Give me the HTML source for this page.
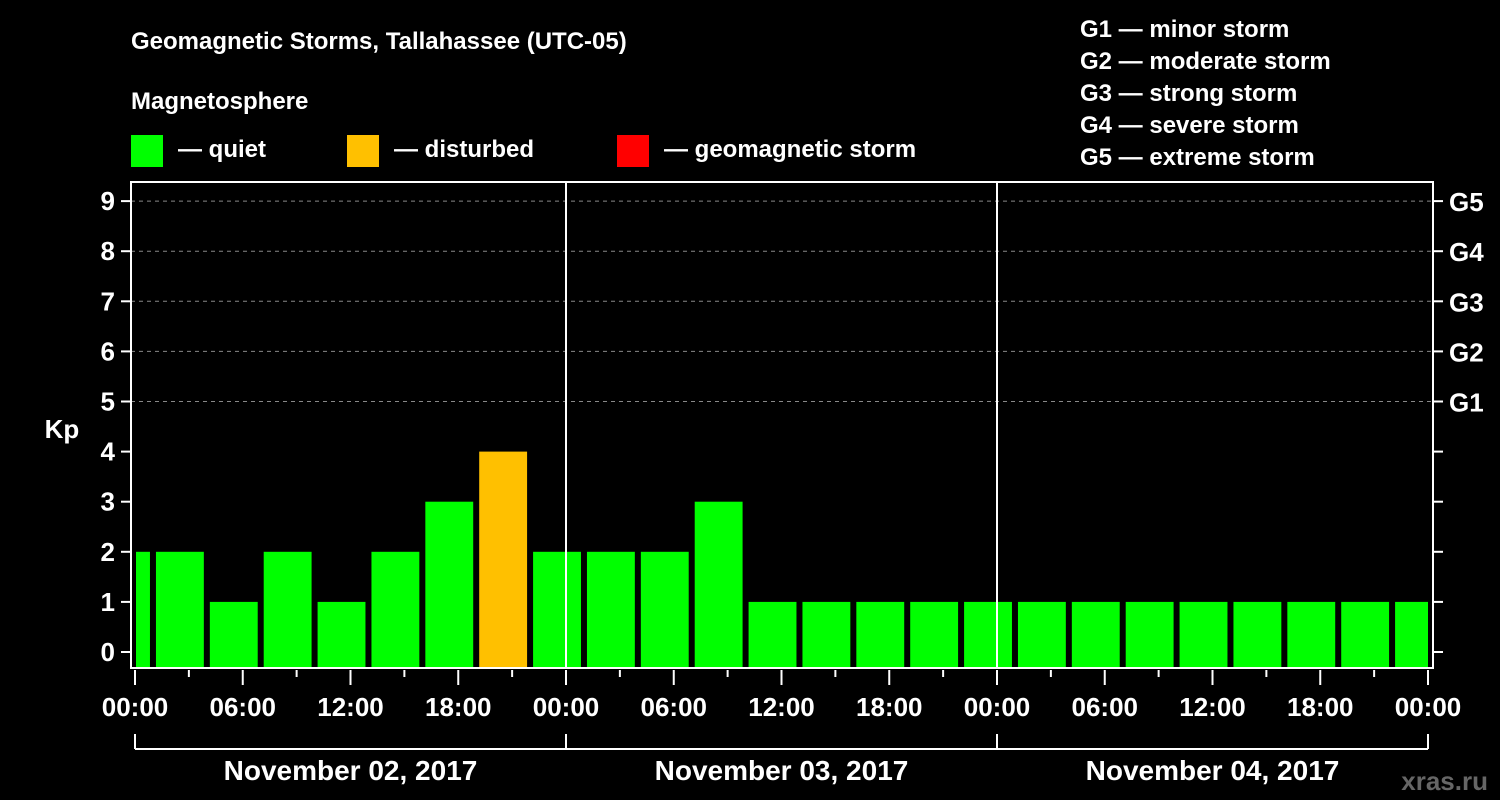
<!DOCTYPE html>
<html><head><meta charset="utf-8"><style>
body{margin:0;background:#000;}
svg{display:block;font-family:"Liberation Sans",Arial,sans-serif;font-weight:bold;}
</style></head><body>
<svg id="c" width="1500" height="800" viewBox="0 0 1500 800">
<rect width="1500" height="800" fill="#000"/>
<text x="131" y="49" fill="#fff" font-size="24">Geomagnetic Storms, Tallahassee (UTC-05)</text>
<text x="131" y="109" fill="#fff" font-size="24">Magnetosphere</text>
<g><rect x="131" y="135" width="32" height="32" fill="#00ff00"/><text x="178" y="157" fill="#fff" font-size="24">— quiet</text></g>
<g><rect x="347" y="135" width="32" height="32" fill="#ffc000"/><text x="394" y="157" fill="#fff" font-size="24">— disturbed</text></g>
<g><rect x="617" y="135" width="32" height="32" fill="#ff0000"/><text x="664" y="157" fill="#fff" font-size="24">— geomagnetic storm</text></g>
<g fill="#fff" font-size="24">
<text x="1080" y="37">G1 — minor storm</text>
<text x="1080" y="69">G2 — moderate storm</text>
<text x="1080" y="101">G3 — strong storm</text>
<text x="1080" y="133">G4 — severe storm</text>
<text x="1080" y="165">G5 — extreme storm</text>
</g>
<text x="62" y="438" fill="#fff" font-size="26" text-anchor="middle">Kp</text>
<text x="1488" y="790" fill="#666" font-size="26" text-anchor="end">xras.ru</text>
<g id="grid"></g><g id="bars"></g><g id="axes"></g>
</svg>
<script>
const values=[2,2,1,2,1,2,3,4,2,2,2,3,1,1,1,1,1,1,1,1,1,1,1,1,1];
const starts=[0,1,4,7,10,13,16,19,22,25,28,31,34,37,40,43,46,49,52,55,58,61,64,67,70];
const ends=[1,4,7,10,13,16,19,22,25,28,31,34,37,40,43,46,49,52,55,58,61,64,67,70,72];
const yTicks=[0,1,2,3,4,5,6,7,8,9];
const gLabels=["","","","","","G1","G2","G3","G4","G5"];
const xLabels=["00:00","06:00","12:00","18:00","00:00","06:00","12:00","18:00","00:00","06:00","12:00","18:00","00:00"];
const dates=["November 02, 2017","November 03, 2017","November 04, 2017"];
const NS="http://www.w3.org/2000/svg";
const X0=135,X1=1428,L=131,R=1433,T=182,B=668;
const xs=h=>X0+(X1-X0)*h/72;
const ys=v=>652-v*50.1;
function mk(p,tag,a){const e=document.createElementNS(NS,tag);for(const k in a)e.setAttribute(k,a[k]);p.appendChild(e);return e;}
const grid=document.getElementById('grid'),bars=document.getElementById('bars'),axes=document.getElementById('axes');
yTicks.forEach((v,i)=>{
  if(v>=5){const g=mk(grid,'line',{x1:L,x2:R,y1:ys(v),y2:ys(v),stroke:'#888','stroke-dasharray':'4,4','stroke-width':1});
  
  }
  mk(axes,'line',{x1:L-10,x2:L,y1:ys(v),y2:ys(v),stroke:'#fff','stroke-width':2});
  mk(axes,'line',{x1:R,x2:R+10,y1:ys(v),y2:ys(v),stroke:'#fff','stroke-width':2});
  const t=mk(axes,'text',{x:L-16,y:ys(v)+9,fill:'#fff','font-size':26,'text-anchor':'end'});t.textContent=v;
  
  
  if(gLabels[i]){const g2=mk(axes,'text',{x:R+16,y:ys(v)+10,fill:'#fff','font-size':26});g2.textContent=gLabels[i];
  
  }
});
values.forEach((v,i)=>{
  const a=xs(starts[i])+(starts[i]===0?1:3),b=xs(ends[i])-(ends[i]===72?0:3);
  const col=v>=5?'#ff0000':(v>=4?'#ffc000':'#00ff00');
  const r=mk(bars,'rect',{x:a,y:ys(v),width:b-a,height:B-1-ys(v),fill:col});
  
  
});
mk(axes,'rect',{x:L,y:T,width:R-L,height:B-T,fill:'none',stroke:'#fff','stroke-width':2});
[24,48].forEach(h=>mk(axes,'line',{x1:xs(h),x2:xs(h),y1:T,y2:B,stroke:'#fff','stroke-width':2}));
for(let h=0;h<=72;h+=3){const major=h%6===0;mk(axes,'line',{x1:xs(h),x2:xs(h),y1:B+2,y2:B+(major?17:9),stroke:'#fff','stroke-width':2});}
xLabels.forEach((s,i)=>{const t=mk(axes,'text',{x:xs(i*6),y:716,fill:'#fff','font-size':26,'text-anchor':'middle'});t.textContent=s;
  
  });
mk(axes,'line',{x1:X0,x2:X1,y1:749,y2:749,stroke:'#fff','stroke-width':2});
[0,24,48,72].forEach(h=>mk(axes,'line',{x1:xs(h),x2:xs(h),y1:734,y2:749,stroke:'#fff','stroke-width':2}));
dates.forEach((d,i)=>{const t=mk(axes,'text',{x:xs(i*24+12),y:780,fill:'#fff','font-size':28,'text-anchor':'middle'});t.textContent=d;
  
  });
</script>
</body></html>
